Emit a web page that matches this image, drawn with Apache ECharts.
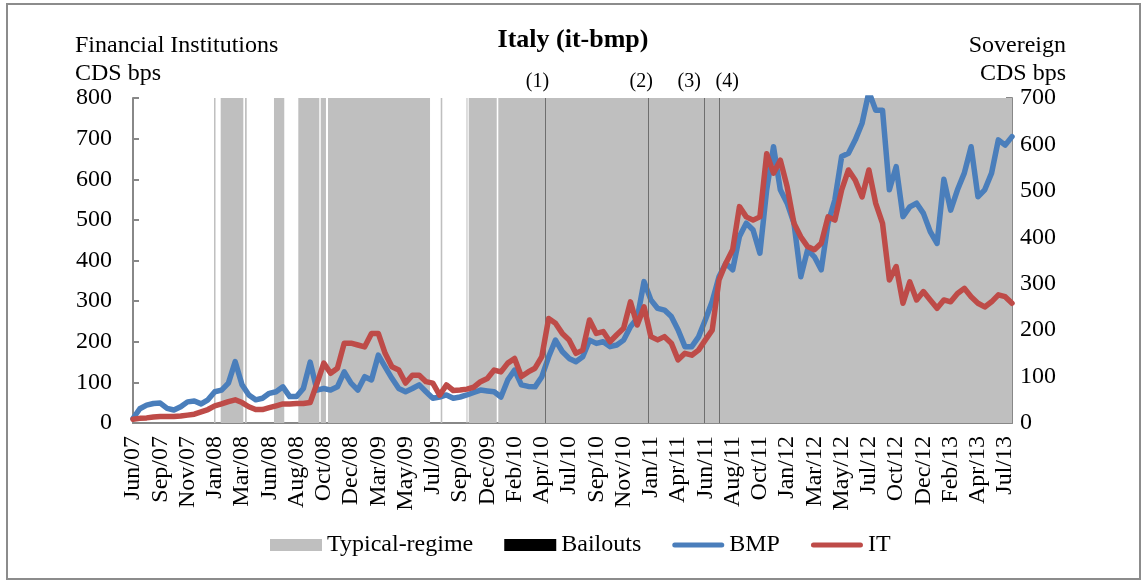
<!DOCTYPE html>
<html>
<head>
<meta charset="utf-8">
<title>Italy (it-bmp)</title>
<script src="https://cdn.jsdelivr.net/npm/echarts@6/dist/echarts.min.js"></script>
<style>
  html, body { margin: 0; padding: 0; background: #fff; }
  #chart { width: 1143px; height: 581px; }
</style>
</head>
<body>
<div id="chart"></div>
<script>
// tick labels along the x axis, one every 4 points
const tickLabels = ['Jun/07', 'Sep/07', 'Nov/07', 'Jan/08', 'Mar/08', 'Jun/08', 'Aug/08', 'Oct/08',
  'Dec/08', 'Mar/09', 'May/09', 'Jul/09', 'Sep/09', 'Dec/09', 'Feb/10', 'Apr/10', 'Jul/10',
  'Sep/10', 'Nov/10', 'Jan/11', 'Apr/11', 'Jun/11', 'Aug/11', 'Oct/11', 'Jan/12', 'Mar/12',
  'May/12', 'Jul/12', 'Oct/12', 'Dec/12', 'Feb/13', 'Apr/13', 'Jul/13'];
const pointsPerTick = 4;

// BMP, financial institution CDS (left axis, bps)
const bmpValues = [11, 35, 44, 48, 49, 36, 32, 40, 52, 54, 47, 57, 77, 81, 98, 151, 94, 69, 57, 61,
  73, 77, 89, 65, 65, 85, 150, 81, 85, 81, 89, 126, 98, 81, 114, 106, 167, 138, 110, 85,
  77, 85, 94, 77, 61, 64, 69, 61, 64, 69, 75, 81, 79, 77, 64, 106, 130, 94, 90, 89,
  114, 163, 204, 176, 159, 151, 163, 204, 196, 200, 188, 192, 204, 237, 258, 348, 303, 282, 278, 262,
  229, 188, 188, 212, 254, 299, 360, 393, 377, 459, 492, 475, 418, 574, 680, 574, 541, 492, 360, 426,
  409, 377, 492, 549, 656, 664, 697, 738, 815, 770, 770, 574, 631, 508, 532, 541, 516, 471, 442, 600,
  524, 574, 615, 680, 557, 574, 615, 697, 684, 705];

// IT, sovereign CDS (right axis, bps)
const itValues = [8, 10, 11, 13, 14, 14, 14, 15, 17, 19, 24, 29, 37, 41, 46, 50, 44, 35, 29, 29,
  33, 37, 41, 41, 42, 42, 44, 85, 129, 107, 118, 172, 172, 168, 164, 193, 193, 150, 121, 114,
  86, 103, 103, 89, 86, 60, 82, 70, 71, 73, 77, 89, 96, 114, 110, 129, 139, 100, 110, 118,
  143, 225, 215, 193, 179, 150, 157, 222, 193, 197, 175, 190, 204, 261, 211, 250, 186, 179, 186, 172,
  136, 150, 146, 157, 179, 200, 308, 344, 373, 466, 444, 437, 444, 580, 538, 566, 509, 430, 401, 380,
  373, 387, 444, 437, 502, 545, 523, 487, 545, 473, 430, 308, 337, 258, 304, 265, 283, 265, 247, 265,
  261, 279, 290, 272, 258, 250, 261, 276, 272, 258];

// typical-regime periods, [start, end] in point index units
const regimePeriods = [[11.89, 12.11], [12.87, 16.19], [16.44, 16.69], [20.69, 22.2], [24.26, 27.34],
  [27.55, 28.32], [28.62, 43.59], [45.16, 45.39], [48.94, 49.09], [49.27, 53.38], [53.61, 129]];

// bailout dates, in point index units
const bailoutPositions = [60.54, 75.62, 83.84, 86.04];
const bailoutLabels = ['(1)', '(2)', '(3)', '(4)'];
const bailoutLabelShift = [-8, -7, -15, 8];

const categories = bmpValues.map((v, i) => i % pointsPerTick === 0 ? tickLabels[i / pointsPerTick] : '');

const FONT = 'Liberation Serif';
const FONT_SIZE = 24;
const AXIS_GREY = '#888888';
const BLUE = '#4a7ebb';
const RED = '#be4b48';
// thin rounded bar used as the legend icon of the two lines
const LINE_ICON = 'path://M2.5,0 H49.5 A2.5,2.5 0 0 1 49.5,5 H2.5 A2.5,2.5 0 0 1 2.5,0 Z';

const chart = echarts.init(document.getElementById('chart'));

chart.setOption({
  backgroundColor: '#fff',
  animation: false,
  textStyle: { fontFamily: FONT, color: '#000' },
  graphic: [{
    type: 'rect',
    shape: { x: 7, y: 4, width: 1133, height: 575 },
    style: { fill: 'none', stroke: '#8c8c8c', lineWidth: 2 },
    silent: true
  }],
  title: [
    {
      text: 'Italy (it-bmp)', left: 573, top: 27, textAlign: 'center', padding: 0,
      textStyle: { fontFamily: FONT, fontSize: 26, fontWeight: 'bold', color: '#000' }
    },
    {
      text: 'Financial Institutions\nCDS bps', left: 75, top: 32, padding: 0,
      textStyle: { fontFamily: FONT, fontSize: FONT_SIZE, fontWeight: 'normal', color: '#000', lineHeight: 28 }
    },
    {
      text: 'Sovereign\nCDS bps', left: 1066, top: 32, textAlign: 'right', padding: 0,
      textStyle: { fontFamily: FONT, fontSize: FONT_SIZE, fontWeight: 'normal', color: '#000', lineHeight: 28, align: 'right' }
    }
  ],
  legend: {
    left: 270, top: 533, padding: 0,
    itemWidth: 52, itemHeight: 12, itemGap: 31,
    symbolKeepAspect: true,
    textStyle: { fontFamily: FONT, fontSize: FONT_SIZE, color: '#000' },
    data: [
      { name: 'Typical-regime', icon: 'rect' },
      { name: 'Bailouts', icon: 'rect' },
      { name: 'BMP', icon: LINE_ICON },
      { name: 'IT', icon: LINE_ICON }
    ]
  },
  grid: { left: 133, right: 131, top: 98, bottom: 158, containLabel: false },
  xAxis: [
    {
      type: 'category',
      data: categories,
      boundaryGap: false,
      axisLine: { lineStyle: { color: AXIS_GREY, width: 2 } },
      axisTick: { show: false },
      splitLine: { show: false },
      axisLabel: {
        rotate: 90, margin: 13, fontFamily: FONT, fontSize: FONT_SIZE, color: '#000',
        interval: (i) => i % pointsPerTick === 0
      }
    },
    { type: 'value', min: 0, max: bmpValues.length - 1, show: false }
  ],
  yAxis: [
    {
      type: 'value', min: 0, max: 800, interval: 100, position: 'left',
      axisLine: { show: true, lineStyle: { color: AXIS_GREY, width: 2 } },
      axisTick: { show: true, inside: true, length: 6, lineStyle: { color: AXIS_GREY, width: 2 } },
      splitLine: { show: false },
      axisLabel: { margin: 21, fontFamily: FONT, fontSize: FONT_SIZE, color: '#000' }
    },
    {
      type: 'value', min: 0, max: 700, interval: 100, position: 'right',
      axisLine: { show: true, lineStyle: { color: AXIS_GREY, width: 2 } },
      axisTick: { show: true, inside: true, length: 6, lineStyle: { color: AXIS_GREY, width: 2 } },
      splitLine: { show: false },
      axisLabel: { margin: 8, fontFamily: FONT, fontSize: FONT_SIZE, color: '#000' }
    }
  ],
  series: [
    {
      name: 'Typical-regime', type: 'line', xAxisIndex: 1, yAxisIndex: 0, data: [],
      color: '#bfbfbf', itemStyle: { color: '#bfbfbf' }, z: 1,
      markArea: {
        silent: true,
        itemStyle: { color: '#bfbfbf' },
        data: regimePeriods.map(p => [{ xAxis: p[0] }, { xAxis: p[1] }])
      }
    },
    {
      name: 'Bailouts', type: 'line', xAxisIndex: 1, yAxisIndex: 0, data: [],
      color: '#000', itemStyle: { color: '#000' }, z: 2,
      markLine: {
        silent: true, symbol: 'none',
        lineStyle: { color: '#6e6e6e', width: 1, type: 'solid' },
        label: {
          show: true, position: 'end', distance: 6,
          fontFamily: FONT, fontSize: 20, color: '#000'
        },
        data: bailoutPositions.map((p, i) => ({
          xAxis: p,
          label: { formatter: bailoutLabels[i], offset: [bailoutLabelShift[i], 0] }
        }))
      }
    },
    {
      name: 'BMP', type: 'line', yAxisIndex: 0, data: bmpValues,
      showSymbol: false, symbol: 'none', z: 4,
      color: BLUE,
      lineStyle: { color: BLUE, width: 5.5, cap: 'round', join: 'round' }
    },
    {
      name: 'IT', type: 'line', yAxisIndex: 1, data: itValues,
      showSymbol: false, symbol: 'none', z: 5,
      color: RED,
      lineStyle: { color: RED, width: 5.5, cap: 'round', join: 'round' }
    }
  ]
});
</script>
</body>
</html>
